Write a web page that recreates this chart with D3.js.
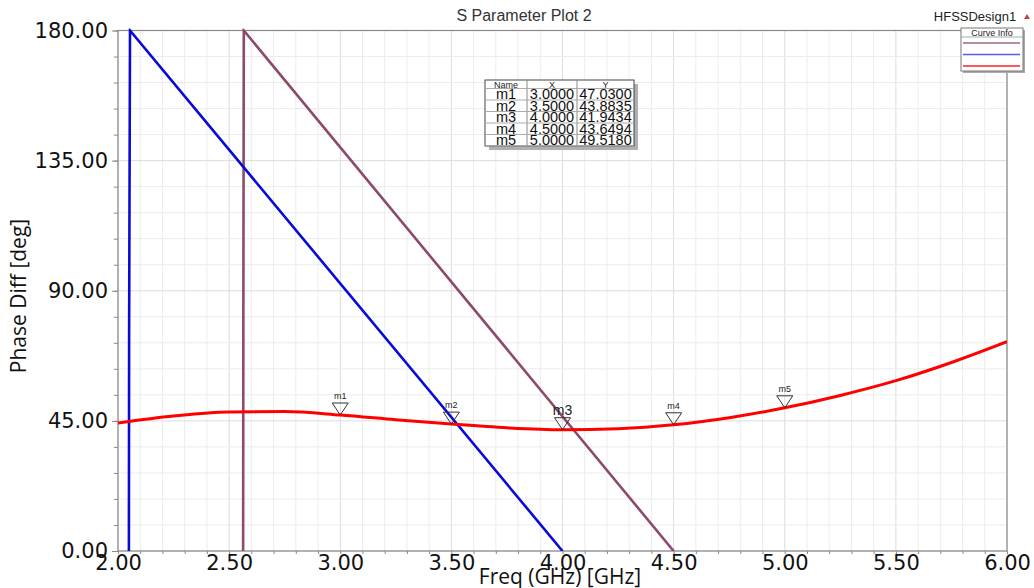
<!DOCTYPE html>
<html><head><meta charset="utf-8">
<script src="https://cdn.jsdelivr.net/npm/d3@7"></script>
<style>body{margin:0;background:#fff}svg{display:block}</style>
</head><body>
<script>
// ---- data ----
const xTicks = [2.0, 2.5, 3.0, 3.5, 4.0, 4.5, 5.0, 5.5, 6.0];
const yTicks = [0, 45, 90, 135, 180];
const blueFreq = [2.049, 2.050, 2.054, 4.0];
const bluePhase = [0, 75, 180, 0];
const purpleFreq = [2.563, 2.564, 2.566, 4.5];
const purplePhase = [0, 80, 180, 0];
const redFreq = [2.0, 2.25, 2.5, 2.75, 3.0, 3.25, 3.5, 3.75, 4.0, 4.25, 4.5, 4.75, 5.0, 5.25, 5.5, 5.75, 6.0];
const redPhase = [44.3, 46.7, 48.1, 48.2, 47.03, 45.4, 43.88, 42.6, 41.94, 42.3, 43.65, 46.1, 49.52, 53.8, 58.9, 65.2, 72.4];
const markerNames = ["m1", "m2", "m3", "m4", "m5"];
const markerX = [3.0, 3.5, 4.0, 4.5, 5.0];
const markerY = [47.0300, 43.8835, 41.9434, 43.6494, 49.5180];

const W = 1034, H = 588;
const m = {l: 118, r: 1007, t: 30.5, b: 551};
const svg = d3.select("body").append("svg").attr("width", W).attr("height", H);
const x = d3.scaleLinear().domain([2, 6]).range([m.l, m.r]);
const y = d3.scaleLinear().domain([0, 180]).range([m.b, m.t]);

// grid
const g = svg.append("g");
const minorX = d3.range(2.0, 6.0001, 0.1);
const minorY = d3.range(0, 180.001, 9);
g.selectAll(".gx").data(minorX).enter().append("line")
  .attr("x1", d => x(d)).attr("x2", d => x(d)).attr("y1", m.t).attr("y2", m.b)
  .attr("stroke", (d) => Math.abs(d*2 - Math.round(d*2)) < 1e-6 ? "#dcdcdc" : "#ececec").attr("stroke-width", 1);
g.selectAll(".gy").data(minorY).enter().append("line")
  .attr("y1", d => y(d)).attr("y2", d => y(d)).attr("x1", m.l).attr("x2", m.r)
  .attr("stroke", d => d % 45 === 0 ? "#dcdcdc" : "#ececec").attr("stroke-width", 1);

// frame
svg.append("rect").attr("x", m.l).attr("y", m.t).attr("width", m.r - m.l).attr("height", m.b - m.t)
  .attr("fill", "none").attr("stroke", "#8a8a8a").attr("stroke-width", 1.2);

// axes
const xAxis = d3.axisBottom(x).tickValues(minorX).tickSize(3).tickFormat("");
svg.append("g").attr("transform", `translate(0,${m.b})`).call(xAxis)
  .call(s => { s.select(".domain").remove(); s.selectAll("line").attr("stroke", "#888"); });
svg.append("g").attr("transform", `translate(0,${m.b})`)
  .call(d3.axisBottom(x).tickValues(xTicks).tickSize(0).tickPadding(4).tickFormat(d3.format(".2f")))
  .call(s => { s.select(".domain").remove();
    s.selectAll("text").attr("font-family", "DejaVu Sans").attr("font-size", 21).attr("fill", "#111"); });
svg.append("g").attr("transform", `translate(${m.l},0)`)
  .call(d3.axisLeft(y).tickValues(minorY).tickSize(4).tickFormat(""))
  .call(s => { s.select(".domain").remove(); s.selectAll("line").attr("stroke", "#888"); });
svg.append("g").attr("transform", `translate(${m.l},0)`)
  .call(d3.axisLeft(y).tickValues(yTicks).tickSize(6).tickPadding(4).tickFormat(d3.format(".2f")))
  .call(s => { s.select(".domain").remove(); s.selectAll("line").attr("stroke", "#888");
    s.selectAll("text").attr("font-family", "DejaVu Sans").attr("font-size", 21).attr("fill", "#111"); });

// clip
svg.append("clipPath").attr("id", "clip").append("rect")
  .attr("x", m.l).attr("y", m.t - 2).attr("width", m.r - m.l).attr("height", m.b - m.t + 2);
const plot = svg.append("g").attr("clip-path", "url(#clip)");
const line = d3.line().x(d => x(d[0])).y(d => y(d[1]));
plot.append("path").datum(d3.zip(purpleFreq, purplePhase)).attr("d", line)
  .attr("fill", "none").attr("stroke", "#8b4a6e").attr("stroke-width", 2.6);
plot.append("path").datum(d3.zip(blueFreq, bluePhase)).attr("d", line)
  .attr("fill", "none").attr("stroke", "#0a0ad8").attr("stroke-width", 2.6);
plot.append("path").datum(d3.zip(redFreq, redPhase)).attr("d", line.curve(d3.curveMonotoneX))
  .attr("fill", "none").attr("stroke", "#ff0000").attr("stroke-width", 3);

// markers
markerNames.forEach((n, i) => {
  const px = x(markerX[i]), py = y(markerY[i]);
  const big = n === "m3";
  svg.append("path").attr("d", `M${px - 8},${py - 12}L${px + 8},${py - 12}L${px},${py}Z`)
    .attr("fill", "none").attr("stroke", "#333").attr("stroke-width", 1);
  svg.append("text").attr("x", px).attr("y", py - (big ? 15 : 16)).attr("text-anchor", "middle")
    .attr("font-family", "Liberation Sans, Arial").attr("font-size", big ? 14 : 9).attr("fill", "#222").text(n);
});

// marker table
const tb = {x: 485, y: 80, w: 149, hh: 8.5, rh: 11.5};
const cols = [485, 527, 577, 634];
const tg = svg.append("g");
tg.append("rect").attr("x", tb.x + 4).attr("y", tb.y + 4).attr("width", tb.w).attr("height", tb.hh + 5 * tb.rh)
  .attr("fill", "#b0b0b0");
tg.append("rect").attr("x", tb.x).attr("y", tb.y).attr("width", tb.w).attr("height", tb.hh + 5 * tb.rh)
  .attr("fill", "#fff").attr("stroke", "#444").attr("stroke-width", 1);
[1, 2].forEach(c => tg.append("line").attr("x1", cols[c]).attr("x2", cols[c]).attr("y1", tb.y).attr("y2", tb.y + tb.hh + 5 * tb.rh)
  .attr("stroke", "#888"));
d3.range(6).forEach(r => tg.append("line").attr("x1", tb.x).attr("x2", tb.x + tb.w)
  .attr("y1", tb.y + tb.hh + r * tb.rh).attr("y2", tb.y + tb.hh + r * tb.rh).attr("stroke", "#aaa"));
["Name", "X", "Y"].forEach((h, c) => tg.append("text").attr("x", (cols[c] + cols[c + 1]) / 2).attr("y", tb.y + 7.5)
  .attr("text-anchor", "middle").attr("font-family", "Liberation Sans, Arial").attr("font-size", 9).attr("fill", "#222").text(h));
markerNames.forEach((n, r) => {
  const yy = tb.y + tb.hh + (r + 1) * tb.rh - 1;
  const vals = [n, d3.format(".4f")(markerX[r]), d3.format(".4f")(markerY[r])];
  vals.forEach((v, c) => tg.append("text").attr("x", (cols[c] + cols[c + 1]) / 2).attr("y", yy)
    .attr("text-anchor", "middle").attr("font-family", "Liberation Sans, Arial").attr("font-size", 14.5).attr("fill", "#111").text(v));
});

// titles
svg.append("text").attr("x", 524).attr("y", 21).attr("text-anchor", "middle")
  .attr("font-family", "Liberation Sans, Arial").attr("font-size", 16).attr("fill", "#333").text("S Parameter Plot 2");
svg.append("text").attr("x", 975).attr("y", 21).attr("text-anchor", "middle")
  .attr("font-family", "Liberation Sans, Arial").attr("font-size", 13).attr("fill", "#222").text("HFSSDesign1");
svg.append("path").attr("d", "M1024,19L1030,19L1027,14Z").attr("fill", "#c04050");
svg.append("text").attr("x", 560).attr("y", 584).attr("text-anchor", "middle")
  .attr("font-family", "Open Sans, Liberation Sans").attr("font-size", 21).attr("fill", "#111").text("Freq (GHz) [GHz]");
svg.append("text").attr("transform", "translate(26,296) rotate(-90)").attr("text-anchor", "middle")
  .attr("font-family", "Open Sans, Liberation Sans").attr("font-size", 21).attr("fill", "#111").text("Phase Diff [deg]");

// curve info legend
const lg = svg.append("g");
lg.append("rect").attr("x", 963).attr("y", 30).attr("width", 62).attr("height", 43).attr("fill", "#aaa");
lg.append("rect").attr("x", 961).attr("y", 28).attr("width", 62).attr("height", 43).attr("fill", "#fff").attr("stroke", "#777");
lg.append("text").attr("x", 992).attr("y", 35.5).attr("text-anchor", "middle").attr("font-family", "Liberation Sans, Arial")
  .attr("font-size", 9).attr("fill", "#222").text("Curve Info");
lg.append("line").attr("x1", 961).attr("x2", 1023).attr("y1", 37).attr("y2", 37).attr("stroke", "#aaa");
const legColors = ["#9a6a85", "#5a5ae0", "#ff2020"];
legColors.forEach((c, i) => lg.append("line").attr("x1", 963).attr("x2", 1020).attr("y1", 43 + i * 11.5).attr("y2", 43 + i * 11.5)
  .attr("stroke", c).attr("stroke-width", 1.5));
</script>
</body></html>
